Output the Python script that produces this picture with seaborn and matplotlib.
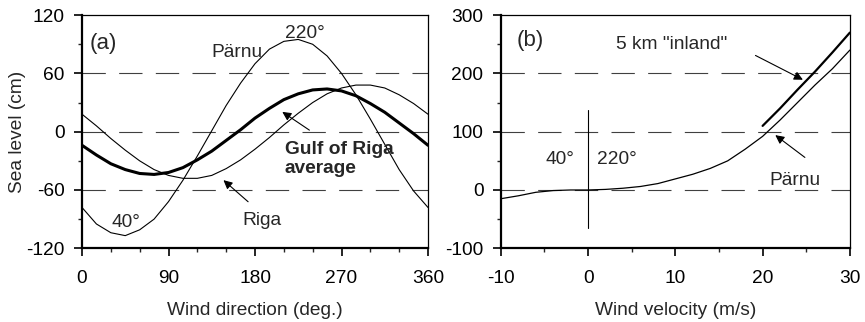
import matplotlib
matplotlib.use("Agg")
import matplotlib.pyplot as plt
import seaborn as sns
from matplotlib.ticker import MultipleLocator

# panel (a): sea level vs wind direction
direction = [0, 15, 30, 45, 60, 75, 90, 105, 120, 135, 150, 165, 180,
             195, 210, 225, 240, 255, 270, 285, 300, 315, 330, 345, 360]
parnu_dir = [-78, -95, -104, -107, -101, -90, -72, -50, -25, 1, 27, 50, 70,
             85, 93, 95, 90, 78, 60, 38, 13, -13, -39, -61, -78]
riga_dir = [18, 6, -7, -19, -30, -39, -45, -48, -48, -45, -38, -29, -18,
            -6, 7, 19, 30, 39, 45, 48, 48, 45, 38, 29, 18]
gulf_avg = [-14, -24, -33, -39, -43, -44, -42, -37, -29, -20, -9, 2, 14,
            24, 33, 39, 43, 44, 42, 37, 29, 20, 9, -2, -14]

# panel (b): sea level vs wind velocity
velocity = [-10, -8, -6, -4, -2, 0, 2, 4, 6, 8, 10, 12, 14, 16, 18, 20,
            22, 24, 26, 28, 30]
parnu_vel = [-15, -10, -4, -1, 0, 0, 1, 3, 6, 11, 19, 27, 37, 50, 70, 92,
             120, 150, 180, 208, 240]
velocity_inland = [20, 22, 24, 26, 28, 30]
inland = [110, 140, 172, 203, 236, 270]

sns.set_style("ticks")
plt.rcParams['font.family'] = ['Liberation Sans', 'DejaVu Sans']
plt.rcParams['font.size'] = 13.8
plt.rcParams['axes.unicode_minus'] = False

fig = plt.figure(figsize=(8.65, 3.22), dpi=100)
ax1 = fig.add_axes([0.0948, 0.229, 0.400, 0.724])
ax2 = fig.add_axes([0.579, 0.229, 0.4035, 0.724])

gridstyle = dict(color='0.25', lw=0.8, dashes=(21, 12), zorder=1)
arrow = dict(arrowstyle='-|>', color='k', lw=0.8, mutation_scale=13)

# --- (a) ---
for y in [60, 0, -60]:
    ax1.axhline(y, **gridstyle)
sns.lineplot(x=direction, y=parnu_dir, ax=ax1, color='k', lw=0.8)
sns.lineplot(x=direction, y=riga_dir, ax=ax1, color='k', lw=0.8)
sns.lineplot(x=direction, y=gulf_avg, ax=ax1, color='k', lw=2.2)
ax1.set_xlim(0, 360)
ax1.set_ylim(-120, 120)
ax1.xaxis.set_major_locator(MultipleLocator(90))
ax1.xaxis.set_minor_locator(MultipleLocator(30))
ax1.yaxis.set_major_locator(MultipleLocator(60))
ax1.yaxis.set_minor_locator(MultipleLocator(30))
ax1.set_xlabel('Wind direction (deg.)', labelpad=11)
ax1.set_ylabel('Sea level (cm)', labelpad=0)

ax1.text(8, 91, '(a)', va='center', fontsize=16)
ax1.text(232, 101, '220°', ha='center', va='center')
ax1.text(161, 82, 'Pärnu', ha='center', va='center')
ax1.text(46, -93, '40°', ha='center', va='center')
ax1.text(187, -91, 'Riga', ha='center', va='center')
ax1.text(211, -28, 'Gulf of Riga\naverage', ha='left', va='center',
         fontweight='bold', linespacing=1.15)
ax1.annotate('', xy=(145, -48), xytext=(175, -74), arrowprops=arrow)
ax1.annotate('', xy=(206, 22), xytext=(239, 0), arrowprops=arrow)

# --- (b) ---
for y in [200, 100, 0]:
    ax2.axhline(y, **gridstyle)
sns.lineplot(x=velocity, y=parnu_vel, ax=ax2, color='k', lw=0.9)
sns.lineplot(x=velocity_inland, y=inland, ax=ax2, color='k', lw=1.6)
ax2.plot([0, 0], [-65, 138], color='k', lw=0.8)
ax2.set_xlim(-10, 30)
ax2.set_ylim(-100, 300)
ax2.xaxis.set_major_locator(MultipleLocator(10))
ax2.xaxis.set_minor_locator(MultipleLocator(5))
ax2.yaxis.set_major_locator(MultipleLocator(100))
ax2.yaxis.set_minor_locator(MultipleLocator(50))
ax2.set_xlabel('Wind velocity (m/s)', labelpad=11)
ax2.set_ylabel('')

ax2.text(-6.6, 257, '(b)', va='center', ha='center', fontsize=16)
ax2.text(3.2, 249, '5 km "inland"', va='center', ha='left')
ax2.text(20.8, 17, 'Pärnu', va='center', ha='left')
ax2.text(-1.6, 53, '40°', va='center', ha='right')
ax2.text(1.0, 53, '220°', va='center', ha='left')
ax2.annotate('', xy=(24.9, 187), xytext=(18.9, 233), arrowprops=arrow)
ax2.annotate('', xy=(21.2, 97), xytext=(25.1, 53), arrowprops=arrow)

for ax in (ax1, ax2):
    for side in ['top', 'right']:
        ax.spines[side].set_linewidth(0.9)
    for side in ['left', 'bottom']:
        ax.spines[side].set_linewidth(1.6)
    for s in ax.spines.values():
        s.set_color('k')
        s.set_visible(True)
    ax.tick_params(which='major', length=5.5, width=1.2, direction='out',
                   labelsize=13.8, colors='k')
    ax.tick_params(axis='x', which='major', pad=10)
    ax.tick_params(axis='y', which='major', pad=7)
    ax.tick_params(which='minor', length=3, width=1.0, direction='out')

fig.savefig('out.png', dpi=100)
